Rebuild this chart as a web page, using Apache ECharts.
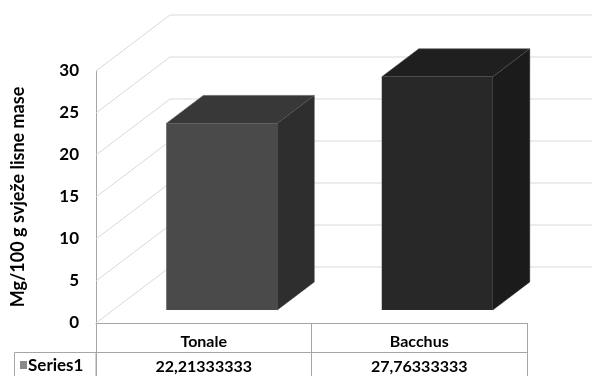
<!DOCTYPE html>
<html>
<head>
<meta charset="utf-8">
<script src="https://cdn.jsdelivr.net/npm/echarts@6/dist/echarts.min.js"></script>
<style>
html,body{margin:0;padding:0;background:#fff;}
#chart{width:592px;height:376px;}
</style>
</head>
<body>
<div id="chart"></div>
<script>
const categories = ['Tonale', 'Bacchus'];
const values = [22.21333333, 27.76333333];
const valueLabels = ['22,21333333', '27,76333333'];
const yTicks = [0, 5, 10, 15, 20, 25, 30];
const seriesName = 'Series1';
const axisTitle = 'Mg/100 g svježe lisne mase';

const FONT = 'Lato';
const LINE = '#a6a6a6';
const GRIDLINE = '#d9d9d9';
// wall depth (pixels) and bar placement within depth
const WALL = [74, -56];
const BAR_OFF = [18, -13];
const BAR_DEPTH = [37, -28];
const barColors = [
  { front: '#4a4a4a', top: '#383838', side: '#2e2e2e' },
  { front: '#282828', top: '#1f1f1f', side: '#1b1b1b' }
];

const chart = echarts.init(document.getElementById('chart'), null, { renderer: 'canvas' });

const option = {
  animation: false,
  backgroundColor: '#ffffff',
  grid: { left: 96, right: 65, top: 71, bottom: 53 },
  xAxis: [
    {
      type: 'category',
      data: categories,
      position: 'bottom',
      axisLine: { show: true, lineStyle: { color: LINE, width: 1 } },
      axisTick: { show: true, length: 29, lineStyle: { color: LINE } },
      axisLabel: { margin: 11, fontSize: 16, fontWeight: 'bold', color: '#000', fontFamily: FONT },
      splitLine: { show: false }
    },
    {
      type: 'category',
      data: categories,
      position: 'bottom',
      offset: 29,
      axisLine: { show: true, lineStyle: { color: LINE, width: 1 } },
      axisTick: { show: true, length: 30, lineStyle: { color: LINE } },
      axisLabel: {
        margin: 7, fontSize: 16, fontWeight: 'bold', color: '#000', fontFamily: FONT,
        formatter: function (v, i) { return valueLabels[categories.indexOf(v)]; }
      },
      splitLine: { show: false }
    }
  ],
  yAxis: {
    type: 'value',
    min: 0, max: 30, interval: 5,
    axisLine: { show: true, lineStyle: { color: LINE, width: 1 } },
    axisTick: { show: false },
    splitLine: { show: false },
    axisLabel: { margin: 17, fontSize: 17, fontWeight: 'bold', color: '#000', fontFamily: FONT },
    name: axisTitle,
    nameLocation: 'middle',
    nameGap: 69,
    nameTextStyle: { fontSize: 18, fontWeight: 'bold', color: '#000', fontFamily: FONT }
  },
  graphic: [
    { type: 'rect', shape: { x: 14.5, y: 352.5, width: 81.5, height: 30 }, style: { fill: 'none', stroke: LINE, lineWidth: 1 }, z: 10 },
    { type: 'rect', shape: { x: 20, y: 361, width: 7, height: 8 }, style: { fill: '#8a8a8a' }, z: 10 },
    { type: 'text', x: 28, y: 366, style: { text: seriesName, fontSize: 17, fontWeight: 'bold', fontFamily: FONT, fill: '#000', verticalAlign: 'middle' }, z: 10 }
  ],
  series: [
    {
      type: 'custom',
      name: 'walls',
      clip: false,
      silent: true,
      data: yTicks.map(function (v) { return [0, v]; }),
      renderItem: function (params, api) {
        const p = api.coord([0, api.value(1)]);
        const band = api.size([1, 0])[0];
        const x0 = p[0] - band / 2;
        const y = p[1];
        const style = { stroke: GRIDLINE, lineWidth: 1 };
        return {
          type: 'group',
          children: [
            { type: 'line', shape: { x1: x0, y1: y, x2: x0 + WALL[0], y2: y + WALL[1] }, style: style },
            { type: 'line', shape: { x1: x0 + WALL[0], y1: y + WALL[1], x2: x0 + 2 * band + WALL[0], y2: y + WALL[1] }, style: style }
          ]
        };
      }
    },
    {
      type: 'custom',
      name: seriesName,
      clip: false,
      data: values.map(function (v, i) { return [i, v]; }),
      renderItem: function (params, api) {
        const i = api.value(0);
        const top = api.coord([i, api.value(1)]);
        const base = api.coord([i, 0]);
        const band = api.size([1, 0])[0];
        const w = band * 0.515;
        const xL = top[0] - w / 2 + BAR_OFF[0];
        const xR = xL + w;
        const yT = top[1] + BAR_OFF[1];
        const yB = base[1] + BAR_OFF[1];
        const dx = BAR_DEPTH[0], dy = BAR_DEPTH[1];
        const c = barColors[i % barColors.length];
        return {
          type: 'group',
          children: [
            { type: 'polygon', shape: { points: [[xR, yT], [xR + dx, yT + dy], [xR + dx, yB + dy], [xR, yB]] }, style: { fill: c.side, stroke: c.side, lineWidth: 0.5 } },
            { type: 'polygon', shape: { points: [[xL, yT], [xR, yT], [xR + dx, yT + dy], [xL + dx, yT + dy]] }, style: { fill: c.top, stroke: '#5a5a5a', lineWidth: 0.6 } },
            { type: 'rect', shape: { x: xL, y: yT, width: w, height: yB - yT }, style: { fill: c.front } }
          ]
        };
      }
    }
  ]
};
chart.setOption(option);
</script>
</body>
</html>
